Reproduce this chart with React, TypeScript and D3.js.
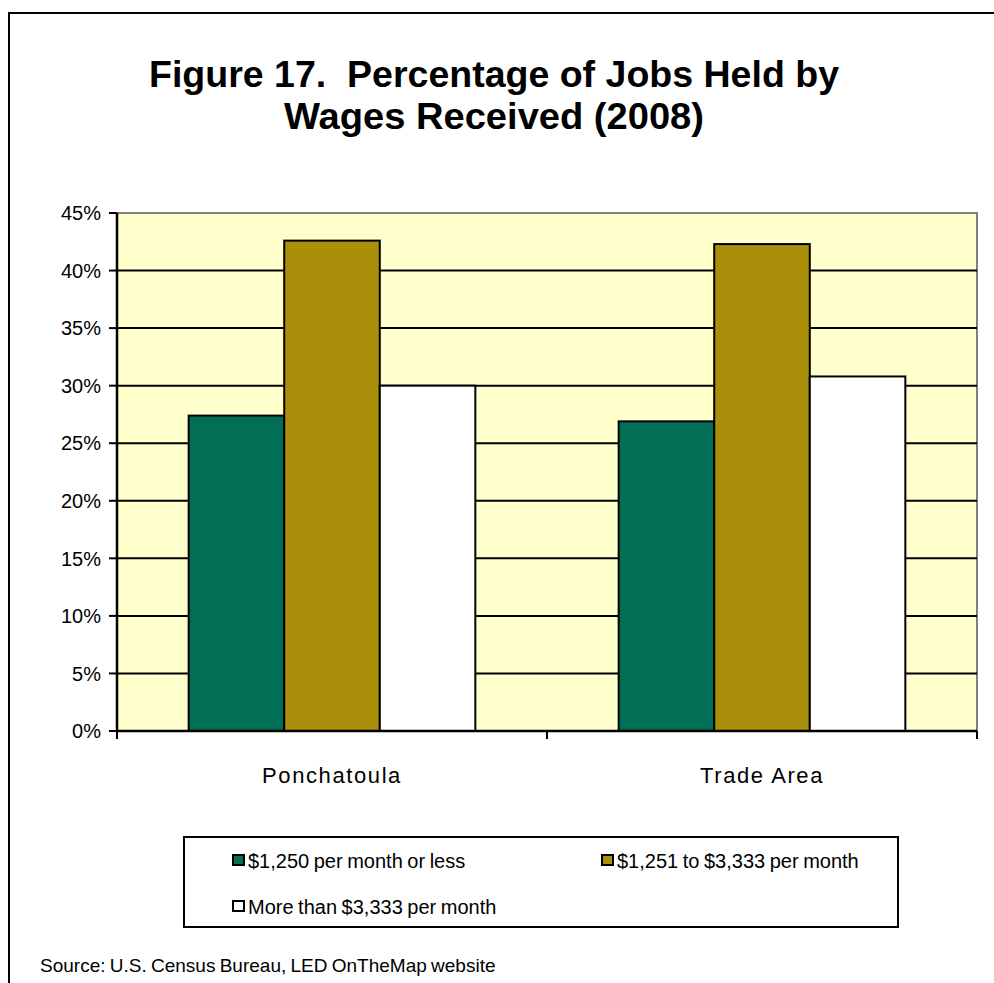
import React from "react";
import * as d3 from "d3";

// Jobs held by monthly wage band, 2008 (percent of jobs)
const categories = ["Ponchatoula", "Trade Area"];
const seriesNames = [
  "$1,250 per month or less",
  "$1,251 to $3,333 per month",
  "More than $3,333 per month",
];
const lowWage = [27.4, 26.9];
const midWage = [42.6, 42.3];
const highWage = [30.0, 30.8];
const yTicks = [0, 5, 10, 15, 20, 25, 30, 35, 40, 45];

const titleLines = ["Figure 17.  Percentage of Jobs Held by", "Wages Received (2008)"];
const sourceNote = "Source: U.S. Census Bureau, LED OnTheMap website";

const seriesValues = [lowWage, midWage, highWage];
const seriesColors = ["#006F56", "#A98F0A", "#FFFFFF"];

const W = 994;
const H = 983;
const plot = { left: 117, right: 977, top: 213, bottom: 731 };
const FONT = "'Liberation Sans', Arial, Helvetica, sans-serif";

export default function App() {
  const x0 = d3
    .scaleBand<string>()
    .domain(categories)
    .range([plot.left, plot.right])
    .paddingInner(0)
    .paddingOuter(0);
  const x1 = d3
    .scaleBand<string>()
    .domain(seriesNames)
    .range([0, x0.bandwidth()])
    .paddingInner(0)
    .paddingOuter(0.75);
  const y = d3.scaleLinear().domain([0, 45]).range([plot.bottom, plot.top]);

  const catTicks = [plot.left, ...categories.map((c) => (x0(c) as number) + x0.bandwidth())];

  const legend = { x: 184, y: 837, w: 714, h: 90 };
  const legendItems = [
    { name: seriesNames[0], color: seriesColors[0], x: 233, y: 868 },
    { name: seriesNames[1], color: seriesColors[1], x: 602, y: 868 },
    { name: seriesNames[2], color: seriesColors[2], x: 233, y: 914 },
  ];
  const titleWidths = [690, 420];

  return (
    <svg
      width={W}
      height={H}
      viewBox={`0 0 ${W} ${H}`}
      style={{ position: "absolute", left: 0, top: 0, background: "#fff" }}
      fontFamily={FONT}
    >
      <rect x={0} y={0} width={W} height={H} fill="#fff" />
      {/* chart frame */}
      <rect x={9} y={13} width={1100} height={1100} fill="none" stroke="#000" strokeWidth={2} />

      {/* title */}
      {titleLines.map((t, i) => (
        <text
          key={t}
          x={494}
          y={87 + i * 42}
          textAnchor="middle"
          fontSize={36}
          fontWeight="bold"
          fill="#000"
          textLength={titleWidths[i]}
          lengthAdjust="spacingAndGlyphs"
          style={{ whiteSpace: "pre" }}
        >
          {t}
        </text>
      ))}

      {/* plot area */}
      <rect
        x={plot.left}
        y={plot.top}
        width={plot.right - plot.left}
        height={plot.bottom - plot.top}
        fill="#FFFFCC"
        stroke="#808080"
        strokeWidth={2}
      />
      {yTicks
        .filter((t) => t > 0 && t < 45)
        .map((t) => (
          <line
            key={`g${t}`}
            x1={plot.left}
            x2={plot.right}
            y1={y(t)}
            y2={y(t)}
            stroke="#000"
            strokeWidth={2}
          />
        ))}

      {/* bars */}
      {categories.map((c, ci) =>
        seriesNames.map((s, si) => {
          const v = seriesValues[si][ci];
          const bx = (x0(c) as number) + (x1(s) as number);
          return (
            <rect
              key={`${c}-${s}`}
              x={bx}
              y={y(v)}
              width={x1.bandwidth()}
              height={y(0) - y(v)}
              fill={seriesColors[si]}
              stroke="#000"
              strokeWidth={2}
            />
          );
        })
      )}

      {/* y axis */}
      <line x1={plot.left} x2={plot.left} y1={plot.top} y2={plot.bottom} stroke="#000" strokeWidth={2.5} />
      {yTicks.map((t) => (
        <g key={`y${t}`}>
          <line x1={plot.left - 8} x2={plot.left} y1={y(t)} y2={y(t)} stroke="#000" strokeWidth={2} />
          <text
            x={101}
            y={y(t)}
            dy="0.36em"
            textAnchor="end"
            fontSize={20}
            fill="#000"
          >
            {`${t}%`}
          </text>
        </g>
      ))}

      {/* x axis */}
      <line x1={plot.left} x2={plot.right} y1={plot.bottom} y2={plot.bottom} stroke="#000" strokeWidth={2.5} />
      {catTicks.map((tx, i) => (
        <line key={`xt${i}`} x1={tx} x2={tx} y1={plot.bottom} y2={plot.bottom + 8} stroke="#000" strokeWidth={2} />
      ))}
      {categories.map((c) => (
        <text
          key={`c${c}`}
          x={(x0(c) as number) + x0.bandwidth() / 2}
          y={783}
          textAnchor="middle"
          fontSize={22}
          letterSpacing={1.6}
          fill="#000"
        >
          {c}
        </text>
      ))}

      {/* legend */}
      <rect x={legend.x} y={legend.y} width={legend.w} height={legend.h} fill="#fff" stroke="#000" strokeWidth={2} />
      {legendItems.map((it) => (
        <g key={it.name}>
          <rect x={it.x} y={it.y - 13} width={11} height={10} fill={it.color} stroke="#000" strokeWidth={2} />
          <text x={it.x + 15} y={it.y} fontSize={20} fill="#000" wordSpacing={-1}>
            {it.name}
          </text>
        </g>
      ))}

      {/* source */}
      <text x={40} y={972} fontSize={19} fill="#000" wordSpacing={-1}>
        {sourceNote}
      </text>
    </svg>
  );
}
